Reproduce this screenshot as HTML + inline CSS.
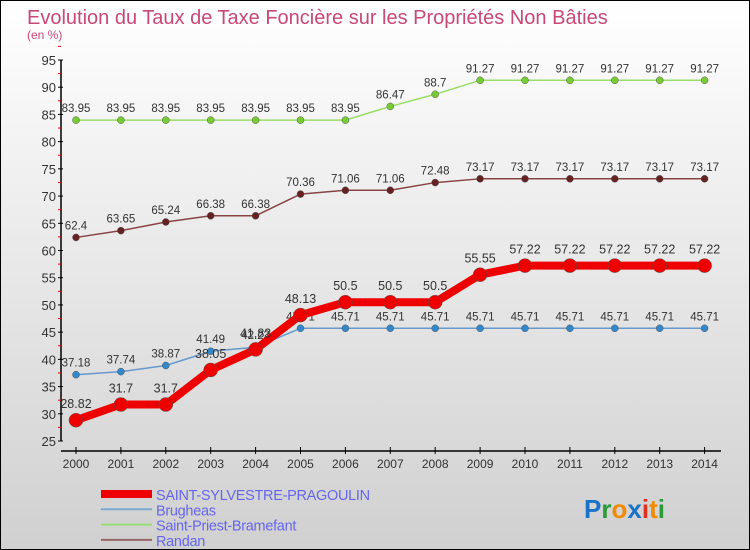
<!DOCTYPE html>
<html><head><meta charset="utf-8"><style>
body{margin:0}
#c{width:748px;height:548px;border:1px solid #000;background:linear-gradient(#ffffff,#d0d0d0);position:relative;font-family:"Liberation Sans",sans-serif;overflow:hidden}
</style></head><body>
<div id="c">
<svg id="s" width="748" height="548" style="position:absolute;left:0;top:0"></svg>
</div>
<script>
const years=[2000,2001,2002,2003,2004,2005,2006,2007,2008,2009,2010,2011,2012,2013,2014];
const sylvestre=[28.82,31.7,31.7,38.05,41.83,48.13,50.5,50.5,50.5,55.55,57.22,57.22,57.22,57.22,57.22];
const brugheas=[37.18,37.74,38.87,41.49,42.23,45.71,45.71,45.71,45.71,45.71,45.71,45.71,45.71,45.71,45.71];
const priest=[83.95,83.95,83.95,83.95,83.95,83.95,83.95,86.47,88.7,91.27,91.27,91.27,91.27,91.27,91.27];
const randan=[62.4,63.65,65.24,66.38,66.38,70.36,71.06,71.06,72.48,73.17,73.17,73.17,73.17,73.17,73.17];
const yTicks=[25,30,35,40,45,50,55,60,65,70,75,80,85,90,95];
const NS='http://www.w3.org/2000/svg';
const svg=document.getElementById('s');
const X=i=>75+i*44.9;
const Y=v=>440-(v-25)*5.443;
function el(t,a,p){const e=document.createElementNS(NS,t);for(const k in a)e.setAttribute(k,a[k]);(p||svg).appendChild(e);return e;}
function txt(x,y,s,size,fill,anchor){const e=el('text',{x:x,y:y,'font-size':size,fill:fill,'text-anchor':anchor||'middle'});e.textContent=s;return e;}
let t=txt(26,23,'Evolution du Taux de Taxe Foncière sur les Propriétés Non Bâties',20,'#c84878','start');

t=txt(26,38,'(en %)',12,'#c84878','start');

let ax=el('line',{x1:60,y1:Y(95),x2:60,y2:Y(25),stroke:'#000','stroke-width':1.5});

yTicks.forEach(v=>{el('line',{x1:57,x2:62,y1:Y(v),y2:Y(v),stroke:'#000'});
 el('line',{x1:57,x2:60,y1:Y(v+2.5),y2:Y(v+2.5),stroke:'#e00'});
 const l=txt(55,Y(v)+5,String(v),13,'#333','end');
 });
ax=el('line',{x1:60,y1:450,x2:720,y2:450,stroke:'#000','stroke-width':1.5});

years.forEach((yr,i)=>{el('line',{x1:X(i),x2:X(i),y1:446,y2:453,stroke:'#000'});
 const l=txt(X(i),467,String(yr),12,'#333');
 });
function series(data,color,dot,w,r,name,fs){
 const g=el('g',{});
 el('polyline',{points:data.map((v,i)=>X(i)+','+Y(v)).join(' '),fill:'none',stroke:color,'stroke-width':w,'stroke-linejoin':'round'},g);
 data.forEach((v,i)=>{const c=el('circle',{cx:X(i),cy:Y(v),r:r,fill:dot,stroke:'#555','stroke-width':0.5},g);
  
  const l=txt(X(i),Y(v)-8-(r>5?4:0),String(v),fs,'#333');
  });
}
series(priest,'#99dd66','#77cc33',1.5,3.5,'series-saint-priest',11.5);
series(randan,'#884444','#662222',1.5,3.5,'series-randan',11.5);
series(brugheas,'#6699cc','#3388cc',1.5,3.5,'series-brugheas',11.5);
series(sylvestre,'#ee0000','#ee0000',8,7,'series-saint-sylvestre',12.5);
const leg=[['SAINT-SYLVESTRE-PRAGOULIN','#ee0000',8],['Brugheas','#7aaad0',2],['Saint-Priest-Bramefant','#99dd77',2],['Randan','#996666',2]];
leg.forEach((l,i)=>{const y=493+i*15.3;const g=el('g',{});
 
 el('line',{x1:100,x2:151,y1:y,y2:y,stroke:l[1],'stroke-width':l[2]},g);
 const tx=txt(155,y+6,l[0],14.5,'#6666ee','start');tx.setAttribute('letter-spacing','-0.3');g.appendChild(tx);});
const lg=el('text',{x:583,y:517,'font-size':26,'font-family':'Liberation Sans, sans-serif','font-weight':'bold'});

[['P','#1a73c8'],['r','#2a9a3a'],['o','#f08a00'],['x','#1a73c8'],['i','#e03020'],['t','#f08a00'],['i','#2a9a3a']].forEach(p=>{const s=el('tspan',{fill:p[1]},lg);s.textContent=p[0];});
</script>
</body></html>
